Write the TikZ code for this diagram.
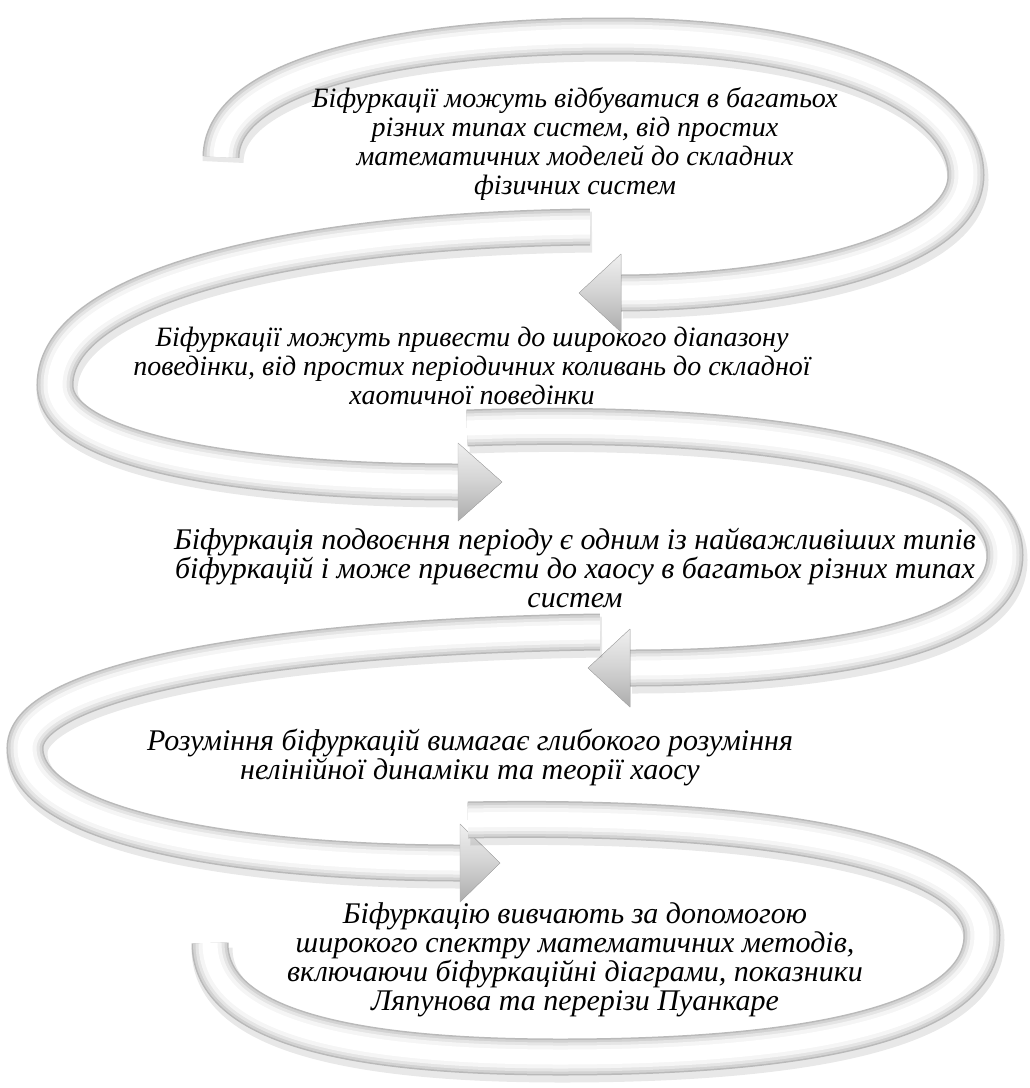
\documentclass[tikz,border=0pt]{standalone}
\usepackage{fontspec}
\setmainfont{Liberation Serif}
\usetikzlibrary{positioning}

\begin{document}
\begin{tikzpicture}[
    x=1pt, y=-1pt,
    band/.style={line width=37pt, draw=gray!55, line cap=butt,
      postaction={draw=gray!35, line width=34pt},
      postaction={draw=gray!20, line width=29pt},
      postaction={draw=gray!8, line width=23pt},
      postaction={draw=white, line width=15pt}},
    bandshadow/.style={line width=41pt, draw=black, opacity=0.09, shift={(2,5)}},
    head/.style={draw=gray!60, line join=round, top color=gray!12, bottom color=gray!65, middle color=gray!35},
    txt/.style={font=\itshape\fontsize{#1}{29}\selectfont, align=center},
    txt/.default=30
    ]
    \fill[white] (0,0) rectangle (1030,1088);
    \useasboundingbox (0,0) rectangle (1030,1088);

    % arrow 1
    \draw[bandshadow] (221,157) .. controls (222,70) and (420,36) .. (610,36)
        .. controls (850,36) and (966,105) .. (966,175)
        .. controls (966,250) and (800,292) .. (621,293);
    \draw[band] (221,157) .. controls (222,70) and (420,36) .. (610,36)
        .. controls (850,36) and (966,105) .. (966,175)
        .. controls (966,250) and (800,292) .. (621,293);
    \filldraw[head] (621,254) -- (579,293) -- (621,332) -- cycle;

    % arrow 2
    \draw[bandshadow] (590,227) .. controls (300,230) and (55,285) .. (55,385)
        .. controls (55,455) and (260,482) .. (458,482);
    \draw[band] (590,227) .. controls (300,230) and (55,285) .. (55,385)
        .. controls (55,455) and (260,482) .. (458,482);
    \filldraw[head] (458,443) -- (502,482) -- (458,521) -- cycle;

    % arrow 3
    \draw[bandshadow] (467,428) .. controls (750,418) and (1005,455) .. (1005,555)
        .. controls (1005,640) and (820,668) .. (630,668);
    \draw[band] (467,428) .. controls (750,418) and (1005,455) .. (1005,555)
        .. controls (1005,640) and (820,668) .. (630,668);
    \filldraw[head] (630,629) -- (588,668) -- (630,707) -- cycle;

    % arrow 4
    \draw[bandshadow] (600,632) .. controls (280,636) and (25,680) .. (25,748)
        .. controls (25,830) and (250,863) .. (460,863);
    \draw[band] (600,632) .. controls (280,636) and (25,680) .. (25,748)
        .. controls (25,830) and (250,863) .. (460,863);
    \filldraw[head] (460,824) -- (500,863) -- (460,902) -- cycle;

    % arrow 5
    \draw[bandshadow] (468,820) .. controls (780,814) and (982,855) .. (982,935)
        .. controls (982,1025) and (800,1057) .. (560,1057)
        .. controls (330,1057) and (210,1020) .. (210,943);
    \draw[band] (468,820) .. controls (780,814) and (982,855) .. (982,935)
        .. controls (982,1025) and (800,1057) .. (560,1057)
        .. controls (330,1057) and (210,1020) .. (210,943);

    \node[txt=28] (t1) at (575,144) {Біфуркації можуть відбуватися в багатьох\\різних типах систем, від простих\\математичних моделей до складних\\фізичних систем};
    \node[txt=28] (t2) at (472,366) {Біфуркації можуть привести до широкого діапазону\\поведінки, від простих періодичних коливань до складної\\хаотичної поведінки};
    \node[txt] (t3) at (575,568) {Біфуркація подвоєння періоду є одним із найважливіших типів\\біфуркацій і може привести до хаосу в багатьох різних типах\\систем};
    \node[txt] (t4) at (470,757) {Розуміння біфуркацій вимагає глибокого розуміння\\нелінійної динаміки та теорії хаосу};
    \node[txt] (t5) at (575,960) {Біфуркацію вивчають за допомогою\\широкого спектру математичних методів,\\включаючи біфуркаційні діаграми, показники\\Ляпунова та перерізи Пуанкаре};
\end{tikzpicture}
\end{document}
